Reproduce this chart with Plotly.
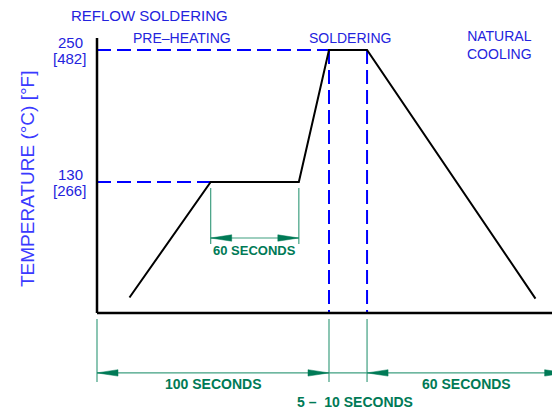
import plotly.graph_objects as go

# ---------------- data (schematic reflow profile) ----------------
profile_time = [14, 49, 87, 100, 116.4, 189]      # seconds (schematic)
profile_temp = [25, 130, 130, 250, 250, 24]       # °C
tick_temp_c = [130, 250]
tick_temp_f = [266, 482]
axis_time = [0, 196]
axis_temp = [11, 261]
preheat_span = [49, 87]
heating_span = [0, 100]
soldering_span = [100, 116.4]
cooling_span = [116.4, 202]
dim_labels = ["60 SECONDS", "100 SECONDS", "5 \u2013\u00a0 10 SECONDS", "60 SECONDS"]
phase_labels = ["PRE\u2013HEATING", "SOLDERING", "NATURAL<br>COOLING"]
phase_time = [36.6, 109, 173.7]

# ---------------- layout constants (pixel mapping) ----------------
W, H = 552, 409
X0, SX = 97, 2.32        # px of t=0, px per second
Y_REF_T, Y_REF_PX, SY = 130, 182, 1.1   # px per °C
def dx(px): return px / SX
def dy(px): return px / SY

x_range = [-X0 / SX, (W - X0) / SX]
y_range = [Y_REF_T - (H - Y_REF_PX) / SY, Y_REF_T + Y_REF_PX / SY]

BLUE = "#0000ff"
TXT_BLUE = "#2323dd"
GREEN = "#007a56"
GREEN_LT = "#3f9f80"
FONT = "Liberation Sans"

fig = go.Figure()

def line(xs, ys, color, width, dash=None):
    fig.add_trace(go.Scatter(x=xs, y=ys, mode="lines", hoverinfo="skip",
                             line=dict(color=color, width=width, dash=dash),
                             showlegend=False))

def arrow(t, T, d):
    L, hw = dx(21), dy(3.2)
    fig.add_trace(go.Scatter(x=[t, t - d * L, t - d * L, t],
                             y=[T, T + hw, T - hw, T], mode="lines",
                             fill="toself", fillcolor=GREEN, hoverinfo="skip",
                             line=dict(color=GREEN, width=0.5), showlegend=False))

DASH = "14px,6px"
# dashed guide lines
line([axis_time[0], soldering_span[0]], [tick_temp_c[1]] * 2, BLUE, 2, DASH)
line([axis_time[0], preheat_span[0]], [tick_temp_c[0]] * 2, BLUE, 2, DASH)
for t in soldering_span:
    line([t, t], [tick_temp_c[1], axis_temp[0]], BLUE, 2, DASH)

# profile
line(profile_time, profile_temp, "black", 2)

# axes
line([axis_time[0], axis_time[0]], [axis_temp[0], axis_temp[1]], "black", 2.5)
line([axis_time[0], x_range[1]], [axis_temp[0], axis_temp[0]], "black", 2.5)

# preheat dimension
pre_dim_T = Y_REF_T - dy(238 - Y_REF_PX)
for t in preheat_span:
    line([t, t], [Y_REF_T - dy(6), pre_dim_T - dy(6)], GREEN_LT, 1.2)
line(preheat_span, [pre_dim_T] * 2, GREEN_LT, 1.2)
arrow(preheat_span[0], pre_dim_T, -1)
arrow(preheat_span[1], pre_dim_T, +1)

# bottom dimension
bot_dim_T = axis_temp[0] - dy(373 - 313)
for t in [heating_span[0], soldering_span[0], soldering_span[1]]:
    line([t, t], [axis_temp[0] - dy(6), bot_dim_T - dy(9)], GREEN_LT, 1.2)
line([heating_span[0], cooling_span[1]], [bot_dim_T] * 2, GREEN_LT, 1.2)
arrow(heating_span[0], bot_dim_T, -1)
arrow(heating_span[1], bot_dim_T, +1)
arrow(cooling_span[0], bot_dim_T, -1)
arrow(cooling_span[1], bot_dim_T, +1)

ann = []
gfont = dict(family=FONT, size=14, color=GREEN, weight="bold")
ann.append(dict(x=sum(preheat_span) / 2, y=pre_dim_T, yshift=-12, text=dim_labels[0],
                font=dict(family=FONT, size=13, color=GREEN, weight="bold")))
ann.append(dict(x=sum(heating_span) / 2, y=bot_dim_T, yshift=-11, text=dim_labels[1], font=gfont))
ann.append(dict(x=sum(soldering_span) / 2, y=bot_dim_T, yshift=-29, xshift=7, text=dim_labels[2], font=gfont))
ann.append(dict(x=sum(cooling_span) / 2, y=bot_dim_T, yshift=-11, text=dim_labels[3], font=gfont))

tfont = dict(family=FONT, size=15, color=TXT_BLUE)
for c, f in zip(tick_temp_c, tick_temp_f):
    ann.append(dict(x=0, y=c, xshift=-27, yshift=8, text=str(c), font=tfont))
    ann.append(dict(x=0, y=c, xshift=-28, yshift=-8, text="[%d]" % f, font=tfont))

bfont = dict(family=FONT, size=14, color=TXT_BLUE)
ann.append(dict(x=phase_time[0], y=axis_temp[1], text=phase_labels[0], font=bfont))
ann.append(dict(x=phase_time[1], y=axis_temp[1], text=phase_labels[1], font=bfont))
ann.append(dict(x=phase_time[2], y=axis_temp[1], yshift=-7, text=phase_labels[2], font=bfont))

for a in ann:
    a.update(xref="x", yref="y", showarrow=False, xanchor="center", yanchor="middle")

ann.append(dict(xref="paper", yref="paper", x=149 / W, y=1 - 16 / H, showarrow=False,
                xanchor="center", yanchor="middle", text="REFLOW SOLDERING",
                font=dict(family=FONT, size=15, color=TXT_BLUE)))
ann.append(dict(xref="paper", yref="paper", x=28 / W, y=1 - 179 / H, showarrow=False,
                xanchor="center", yanchor="middle", textangle=-90,
                text="TEMPERATURE (\u00b0C) [\u00b0F]",
                font=dict(family=FONT, size=19, color="#3a3aff")))

fig.update_layout(
    width=W, height=H, margin=dict(l=0, r=0, t=0, b=0),
    paper_bgcolor="white", plot_bgcolor="white", hovermode=False,
    xaxis=dict(range=x_range, visible=False, fixedrange=True),
    yaxis=dict(range=y_range, visible=False, fixedrange=True),
    annotations=ann,
)
fig.write_html("out.html", config={"displayModeBar": False},
               post_script="document.body.style.margin='0';document.body.style.overflow='hidden';")
